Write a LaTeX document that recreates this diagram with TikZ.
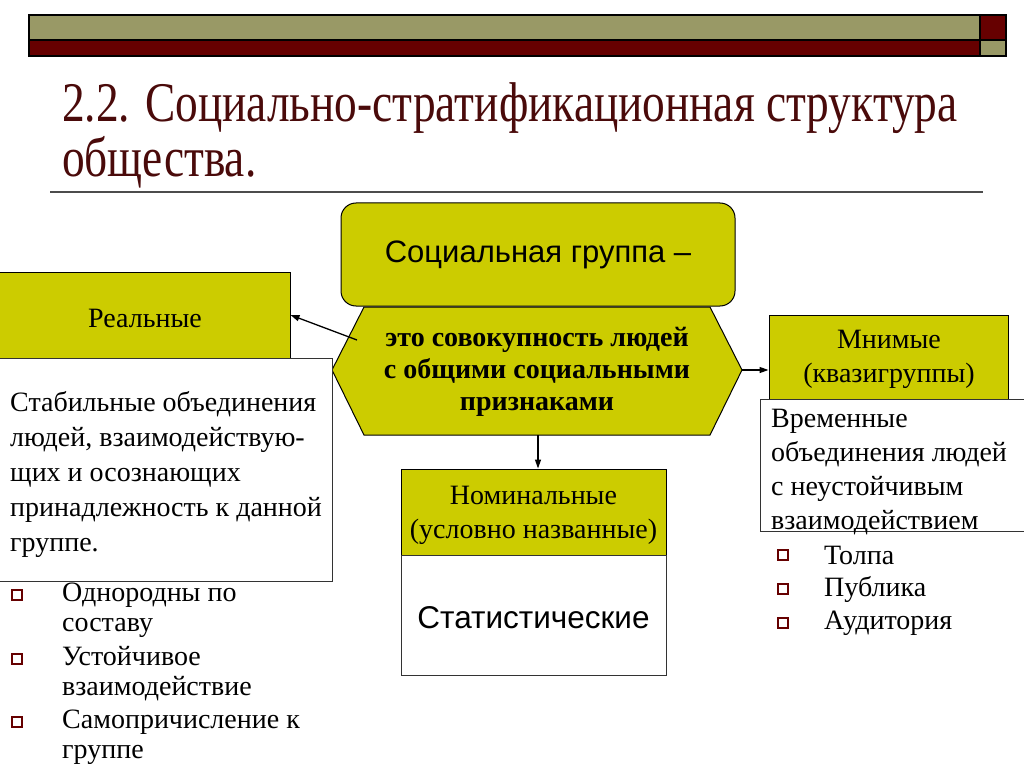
\documentclass[tikz,border=0pt]{standalone}
\usepackage{fontspec}
\setmainfont{Liberation Serif}
\newfontfamily\sansf{Liberation Sans}
\newfontfamily\titlef[FakeStretch=0.81]{Liberation Serif}
\usetikzlibrary{arrows.meta}
\definecolor{olivebar}{HTML}{999966}
\definecolor{darkred}{HTML}{660000}
\definecolor{ybox}{HTML}{CCCC00}
\definecolor{titlec}{HTML}{4A0A0A}
\begin{document}
\begin{tikzpicture}[x=1pt,y=-1pt,
  bar/.style={draw=black,line width=1.5pt},
  ybx/.style={draw=black,fill=ybox,line width=1pt,inner sep=0pt},
  wbx/.style={draw=black!80,fill=white,line width=1pt,inner sep=0pt},
  txt/.style={font=\fontsize{28}{35}\selectfont,inner sep=0pt},
  hd/.style={font=\fontsize{28}{34}\selectfont,align=center,inner sep=0pt},
  bul/.style={draw=darkred,fill=white,line width=1.8pt,minimum size=10pt,inner sep=0pt},
  arr/.style={-{Triangle[length=9pt,width=6pt]},line width=1.3pt}]
\useasboundingbox (0,0) rectangle (1024,767);
\fill[white] (0,0) rectangle (1024,767);
% top bars
\draw[bar,fill=olivebar] (29,15) rectangle (980,40);
\draw[bar,fill=darkred] (29,40) rectangle (980,56);
\draw[bar,fill=darkred] (980,15) rectangle (1006,40);
\draw[bar,fill=olivebar] (980,40) rectangle (1006,56);
% title
\node[anchor=base west,inner sep=0pt,text=titlec,align=left,
  font=\titlef\fontsize{56}{55}\selectfont] (title) at (62,177)
  {2.2. Социально-стратификационная структура\\общества.};
\draw[line width=2pt,draw=black!70] (50,192) -- (983,192);
% central rounded box
\node[ybx,rounded corners=15pt,minimum width=394pt,minimum height=103pt,
  font=\sansf\fontsize{31}{36}\selectfont] (sg) at (538,254.5) {Социальная группа –};
% hexagon
\coordinate (hexW) at (332,370);
\coordinate (hexE) at (742,370);
\coordinate (hexS) at (538,435);
\coordinate (hexNW) at (357,340);
\draw[draw=black,fill=ybox,line width=1pt]
  (hexW) -- (364,307) -- (710,307) -- (hexE) -- (710,435) -- (364,435) -- cycle;
\node[inner sep=0pt,align=center,font=\bfseries\fontsize{28}{32}\selectfont] (def) at (537,372)
  {это совокупность людей\\с общими социальными\\признаками};
% real groups
\node[ybx,minimum width=292pt,minimum height=86pt] (real) at (144,315) {};
\node[hd] (realt) at (145,318) {Реальные};
\node[wbx,minimum width=334pt,minimum height=223pt] (realbox) at (165,469.5) {};
\node[txt,anchor=west,align=left] (realtxt) at (10,474)
  {Стабильные объединения\\людей, взаимодействую-\\щих и осознающих\\принадлежность к данной\\группе.};
% left bullets
\node[bul] (lb1) at (17,595) {};
\node[bul] (lb2) at (17,659) {};
\node[bul] (lb3) at (17,722) {};
\node[txt,anchor=west,align=left,font=\fontsize{28}{30}\selectfont] (li1) at (62,610) {Однородны по\\составу};
\node[txt,anchor=west,align=left,font=\fontsize{28}{30}\selectfont] (li2) at (62,674) {Устойчивое\\взаимодействие};
\node[txt,anchor=west,align=left,font=\fontsize{28}{30}\selectfont] (li3) at (62,737) {Самопричисление к\\группе};
% imaginary groups
\node[ybx,minimum width=239pt,minimum height=84pt] (mnim) at (888.5,357) {};
\node[hd] (mnimt) at (889,359) {Мнимые\\(квазигруппы)};
\node[wbx,minimum width=270pt,minimum height=132pt] (mnimbox) at (895,465) {};
\node[txt,anchor=west,align=left,font=\fontsize{28}{34}\selectfont] (mnimtxt) at (771,472)
  {Временные\\объединения людей\\с неустойчивым\\взаимодействием};
\node[bul] (rb1) at (783,555) {};
\node[bul] (rb2) at (783,589) {};
\node[bul] (rb3) at (783,623) {};
\node[txt,anchor=west] (ri1) at (824,555) {Толпа};
\node[txt,anchor=west] (ri2) at (824,589) {Публика};
\node[txt,anchor=west] (ri3) at (824,623) {Аудитория};
% nominal groups
\node[ybx,minimum width=265pt,minimum height=86pt] (nom) at (533.5,512) {};
\node[hd] (nomt) at (533.5,515) {Номинальные\\(условно названные)};
\node[wbx,minimum width=265pt,minimum height=120pt] (stat) at (533.5,615) {};
\node[inner sep=0pt,font=\sansf\fontsize{31.5}{36}\selectfont] (statt) at (533.5,618) {Статистические};
% connectors
\draw[arr] (hexNW) -- (real.east);
\draw[arr] (hexE) -- (hexE -| mnim.west);
\draw[arr] (hexS) -- (hexS |- nom.north);
\end{tikzpicture}
\end{document}
